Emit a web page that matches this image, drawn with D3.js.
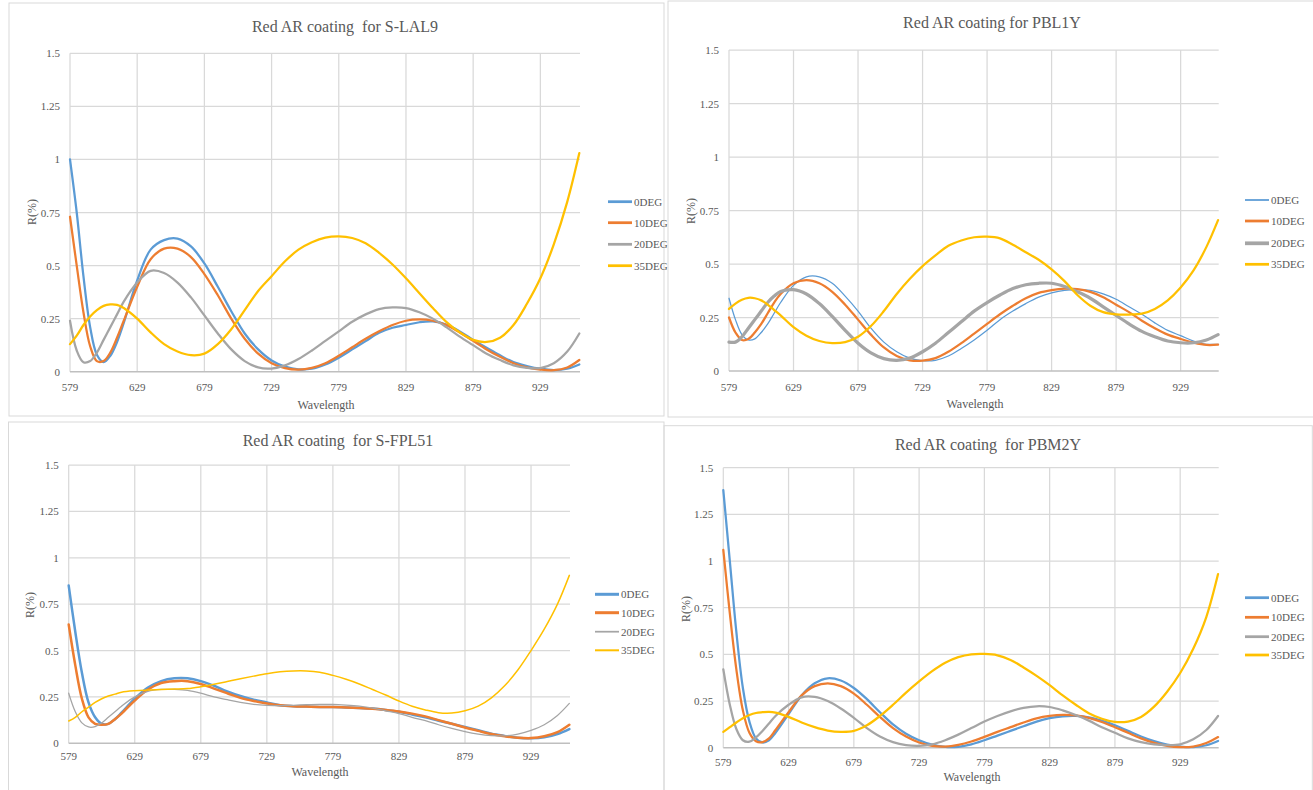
<!DOCTYPE html>
<html>
<head>
<meta charset="utf-8">
<script src="https://cdn.jsdelivr.net/npm/d3@7"></script>
<style>
  html, body { margin: 0; padding: 0; background: #fff; }
  svg { display: block; }
</style>
</head>
<body>
<svg id="chart" width="1313" height="790"></svg>
<script>
// ---------------- DATA ----------------
const wavelengths = [579,584,589,594,599,604,609,614,619,629,639,649,659,669,679,689,699,709,719,729,739,749,759,769,779,789,799,809,819,829,839,849,859,869,879,889,899,909,919,929,939,949,958];
const seriesNames = ["0DEG", "10DEG", "20DEG", "35DEG"];
const xTickValues = [579, 629, 679, 729, 779, 829, 879, 929];
const yTickValues = [0, 0.25, 0.5, 0.75, 1, 1.25, 1.5];
const yTickLabels = ["0", "0.25", "0.5", "0.75", "1", "1.25", "1.5"];
const titles = ["Red AR coating  for S-LAL9", "Red AR coating for PBL1Y", "Red AR coating  for S-FPL51", "Red AR coating  for PBM2Y"];
const xAxisTitle = "Wavelength";
const yAxisTitle = "R(%)";

// Panel 1: S-LAL9
const slal9_0 = [1.0,0.75,0.45,0.21,0.08,0.045,0.075,0.14,0.23,0.43,0.575,0.62,0.627,0.59,0.51,0.40,0.285,0.18,0.105,0.053,0.024,0.011,0.014,0.034,0.066,0.105,0.144,0.183,0.207,0.22,0.233,0.237,0.222,0.19,0.15,0.113,0.077,0.045,0.027,0.014,0.008,0.014,0.034];
const slal9_10 = [0.73,0.50,0.28,0.12,0.05,0.05,0.09,0.16,0.24,0.40,0.53,0.58,0.58,0.54,0.46,0.36,0.25,0.155,0.085,0.04,0.017,0.01,0.018,0.04,0.075,0.115,0.155,0.19,0.22,0.24,0.246,0.24,0.22,0.185,0.145,0.105,0.07,0.04,0.02,0.01,0.007,0.02,0.055];
const slal9_20 = [0.24,0.10,0.045,0.05,0.09,0.15,0.21,0.27,0.33,0.42,0.475,0.465,0.42,0.35,0.265,0.18,0.105,0.05,0.02,0.015,0.03,0.06,0.10,0.145,0.19,0.235,0.27,0.295,0.303,0.30,0.28,0.25,0.21,0.165,0.125,0.085,0.055,0.03,0.018,0.017,0.04,0.095,0.18];
const slal9_35 = [0.13,0.17,0.22,0.26,0.29,0.31,0.317,0.315,0.30,0.25,0.185,0.13,0.095,0.078,0.085,0.13,0.20,0.29,0.38,0.45,0.52,0.575,0.61,0.632,0.638,0.63,0.605,0.56,0.505,0.44,0.37,0.30,0.235,0.185,0.15,0.14,0.16,0.22,0.32,0.44,0.60,0.80,1.03];

// Panel 2: PBL1Y
const pbl1y_0 = [0.34,0.24,0.17,0.145,0.15,0.18,0.22,0.27,0.32,0.40,0.44,0.44,0.41,0.35,0.28,0.20,0.135,0.09,0.06,0.048,0.05,0.07,0.105,0.145,0.19,0.24,0.28,0.315,0.345,0.365,0.377,0.38,0.377,0.36,0.335,0.30,0.265,0.225,0.19,0.165,0.14,0.125,0.125];
const pbl1y_10 = [0.25,0.18,0.145,0.15,0.18,0.22,0.27,0.32,0.36,0.41,0.425,0.41,0.37,0.31,0.24,0.17,0.11,0.07,0.05,0.048,0.06,0.09,0.13,0.175,0.22,0.265,0.305,0.34,0.365,0.378,0.385,0.383,0.37,0.345,0.31,0.275,0.235,0.20,0.17,0.15,0.133,0.122,0.123];
const pbl1y_20 = [0.135,0.135,0.16,0.20,0.24,0.28,0.32,0.35,0.372,0.38,0.36,0.315,0.255,0.19,0.13,0.085,0.058,0.05,0.06,0.09,0.13,0.18,0.23,0.28,0.32,0.355,0.385,0.403,0.41,0.41,0.395,0.37,0.34,0.30,0.26,0.22,0.185,0.16,0.14,0.132,0.132,0.145,0.17];
const pbl1y_35 = [0.29,0.315,0.333,0.342,0.34,0.33,0.31,0.285,0.26,0.205,0.165,0.14,0.13,0.135,0.16,0.21,0.28,0.36,0.43,0.49,0.54,0.585,0.61,0.625,0.628,0.62,0.59,0.555,0.52,0.475,0.42,0.355,0.305,0.275,0.265,0.264,0.268,0.29,0.33,0.39,0.47,0.58,0.705];

// Panel 3: S-FPL51
const sfpl51_0 = [0.85,0.60,0.38,0.22,0.14,0.105,0.105,0.13,0.165,0.24,0.30,0.335,0.35,0.35,0.335,0.31,0.28,0.255,0.235,0.22,0.205,0.20,0.198,0.196,0.195,0.193,0.19,0.187,0.18,0.17,0.155,0.14,0.122,0.105,0.088,0.07,0.052,0.04,0.03,0.027,0.032,0.05,0.077];
const sfpl51_10 = [0.64,0.42,0.24,0.14,0.105,0.10,0.105,0.13,0.16,0.23,0.29,0.325,0.335,0.335,0.32,0.295,0.27,0.245,0.228,0.215,0.205,0.20,0.198,0.196,0.195,0.193,0.19,0.186,0.18,0.172,0.16,0.145,0.125,0.105,0.085,0.067,0.05,0.038,0.03,0.028,0.038,0.06,0.10];
const sfpl51_20 = [0.27,0.17,0.11,0.088,0.09,0.11,0.14,0.17,0.20,0.25,0.28,0.29,0.29,0.285,0.27,0.25,0.235,0.22,0.21,0.205,0.203,0.205,0.208,0.21,0.21,0.206,0.20,0.19,0.175,0.16,0.14,0.122,0.10,0.08,0.063,0.05,0.042,0.04,0.05,0.07,0.10,0.15,0.215];
const sfpl51_35 = [0.12,0.14,0.17,0.195,0.22,0.24,0.255,0.265,0.275,0.283,0.287,0.29,0.292,0.295,0.305,0.318,0.333,0.348,0.362,0.375,0.385,0.39,0.39,0.383,0.366,0.345,0.32,0.29,0.26,0.228,0.20,0.18,0.165,0.163,0.175,0.20,0.245,0.31,0.395,0.50,0.615,0.75,0.905];

// Panel 4: PBM2Y
const pbm2y_0 = [1.38,1.0,0.62,0.32,0.14,0.05,0.028,0.04,0.08,0.18,0.28,0.345,0.372,0.36,0.32,0.26,0.19,0.125,0.075,0.04,0.016,0.004,0.005,0.018,0.04,0.065,0.09,0.115,0.14,0.158,0.168,0.17,0.163,0.145,0.12,0.09,0.06,0.035,0.016,0.006,0.003,0.013,0.036];
const pbm2y_10 = [1.06,0.72,0.42,0.20,0.08,0.035,0.03,0.05,0.095,0.19,0.28,0.33,0.345,0.33,0.29,0.23,0.165,0.105,0.06,0.028,0.01,0.006,0.015,0.033,0.058,0.085,0.11,0.135,0.157,0.17,0.176,0.173,0.16,0.138,0.11,0.08,0.05,0.026,0.01,0.003,0.006,0.025,0.057];
const pbm2y_20 = [0.42,0.23,0.10,0.04,0.032,0.055,0.09,0.13,0.17,0.23,0.27,0.272,0.25,0.21,0.16,0.105,0.06,0.03,0.014,0.01,0.018,0.04,0.07,0.105,0.14,0.17,0.195,0.213,0.222,0.218,0.20,0.175,0.145,0.11,0.08,0.05,0.03,0.018,0.014,0.018,0.045,0.095,0.17];
const pbm2y_35 = [0.085,0.11,0.135,0.158,0.175,0.186,0.19,0.192,0.188,0.165,0.135,0.11,0.092,0.085,0.09,0.12,0.17,0.23,0.295,0.355,0.41,0.455,0.485,0.50,0.502,0.495,0.47,0.43,0.385,0.335,0.28,0.23,0.185,0.155,0.138,0.14,0.165,0.22,0.30,0.40,0.53,0.70,0.93];

const panelData = [
  [slal9_0, slal9_10, slal9_20, slal9_35],
  [pbl1y_0, pbl1y_10, pbl1y_20, pbl1y_35],
  [sfpl51_0, sfpl51_10, sfpl51_20, sfpl51_35],
  [pbm2y_0, pbm2y_10, pbm2y_20, pbm2y_35]
];

// ---------------- LAYOUT / STYLE ----------------
const colors = ["#5B9BD5", "#ED7D31", "#A5A5A5", "#FFC000"];
const textColor = "#595959";
const fontFamily = "Liberation Serif";
const xDomain = [579, 958.5];
const yDomain = [0, 1.5];
const layouts = [
  { left: 70, right: 580, top: 53.3, bottom: 371.7, titleX: 345, titleY: 32, xTitleX: 326, xTitleY: 409, yTitleX: 32, yTitleY: 212, xTickY: 391, legX: 608, legRows: [201.7, 222.7, 244.3, 265.7], widths: [2.25, 2.25, 2.25, 2.25],
    frame: [9, 3, 655, 413] },
  { left: 729, right: 1218.7, top: 50, bottom: 371, titleX: 992, titleY: 28, xTitleX: 975, xTitleY: 408, yTitleX: 691, yTitleY: 211, xTickY: 390.5, legX: 1245, legRows: [200, 221, 243.3, 264.3], widths: [1.25, 2.25, 3.25, 2.25],
    frame: [668, 1, 660, 416] },
  { left: 68.7, right: 570, top: 465, bottom: 743.3, titleX: 338, titleY: 445.5, xTitleX: 320, xTitleY: 776, yTitleX: 30, yTitleY: 605, xTickY: 759.5, legX: 595, legRows: [594.3, 612.7, 631.7, 650.3], widths: [2.5, 2.5, 1.25, 1.5],
    frame: [8.5, 422, 655.5, 380] },
  { left: 723.3, right: 1218.7, top: 467.7, bottom: 747.7, titleX: 988, titleY: 450, xTitleX: 972, xTitleY: 781, yTitleX: 686, yTitleY: 609, xTickY: 766, legX: 1245, legRows: [597.7, 617.3, 636.7, 655], widths: [2.25, 2.25, 2.25, 2.25],
    frame: [664, 425.7, 648.3, 380] }
];

const svg = d3.select("#chart");

function addText(sel) {
  return sel.append("text").attr("font-family", fontFamily).attr("fill", textColor);
}

layouts.forEach((L, pi) => {
  const g = svg.append("g");
  // panel frame
  g.append("rect")
    .attr("x", L.frame[0]).attr("y", L.frame[1])
    .attr("width", L.frame[2]).attr("height", L.frame[3])
    .attr("fill", "none").attr("stroke", "#d9d9d9").attr("stroke-width", 1);

  const x = d3.scaleLinear().domain(xDomain).range([L.left, L.right]);
  const y = d3.scaleLinear().domain(yDomain).range([L.bottom, L.top]);

  // horizontal gridlines
  g.append("g").selectAll("line").data(yTickValues.filter(v => v > 0)).join("line")
    .attr("x1", L.left).attr("x2", L.right)
    .attr("y1", d => y(d)).attr("y2", d => y(d))
    .attr("stroke", "#d9d9d9").attr("stroke-width", 1.25);
  // vertical gridlines
  g.append("g").selectAll("line").data(xTickValues).join("line")
    .attr("x1", d => x(d)).attr("x2", d => x(d))
    .attr("y1", L.top).attr("y2", L.bottom)
    .attr("stroke", "#d9d9d9").attr("stroke-width", 1.25);
  // baseline
  g.append("line")
    .attr("x1", L.left).attr("x2", L.right)
    .attr("y1", y(0)).attr("y2", y(0))
    .attr("stroke", "#bfbfbf").attr("stroke-width", 1.5);

  // y tick labels
  g.append("g").selectAll("text").data(yTickValues).join("text")
    .attr("font-family", fontFamily).attr("fill", textColor)
    .attr("x", L.left - 10).attr("y", d => y(d) + 4)
    .attr("text-anchor", "end").attr("font-size", 11)
    .text((d, i) => yTickLabels[i]);
  // x tick labels
  g.append("g").selectAll("text").data(xTickValues).join("text")
    .attr("font-family", fontFamily).attr("fill", textColor)
    .attr("x", d => x(d)).attr("y", L.xTickY)
    .attr("text-anchor", "middle").attr("font-size", 11)
    .text(d => d);

  // series lines
  const line = d3.line()
    .x((d, i) => x(wavelengths[i]))
    .y(d => y(d))
    .curve(d3.curveCatmullRom.alpha(0.5));
  panelData[pi].forEach((vals, si) => {
    g.append("path")
      .attr("d", line(vals))
      .attr("fill", "none")
      .attr("stroke", colors[si])
      .attr("stroke-width", L.widths[si])
      .attr("stroke-linejoin", "round")
      .attr("stroke-linecap", "round");
  });

  // title
  addText(g)
    .attr("x", L.titleX).attr("y", L.titleY)
    .attr("text-anchor", "middle").attr("font-size", 16)
    .style("white-space", "pre")
    .text(titles[pi]);
  // axis titles
  addText(g)
    .attr("x", L.xTitleX).attr("y", L.xTitleY)
    .attr("text-anchor", "middle").attr("font-size", 12)
    .text(xAxisTitle);
  addText(g)
    .attr("transform", `translate(${L.yTitleX + 4},${L.yTitleY}) rotate(-90)`)
    .attr("text-anchor", "middle").attr("font-size", 12)
    .text(yAxisTitle);

  // legend
  const leg = g.append("g");
  seriesNames.forEach((name, si) => {
    const ry = L.legRows[si];
    leg.append("line")
      .attr("x1", L.legX).attr("x2", L.legX + 24)
      .attr("y1", ry).attr("y2", ry)
      .attr("stroke", colors[si]).attr("stroke-width", L.widths[si] + 0.5);
    addText(leg)
      .attr("x", L.legX + 26).attr("y", ry + 4)
      .attr("font-size", 11)
      .text(name);
  });
});
</script>
</body>
</html>
